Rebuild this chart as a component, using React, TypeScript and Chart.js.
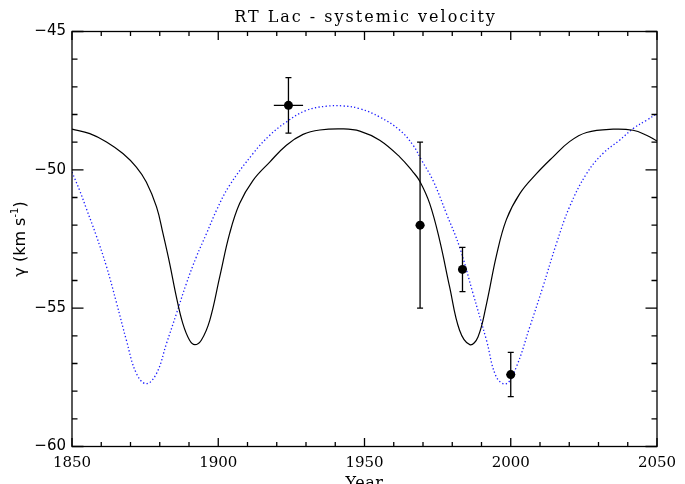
import { useEffect, useRef } from 'react';
import { Chart, registerables } from 'chart.js';

Chart.register(...registerables);

// Solid model curve (black)
const blackYears = [1850.0, 1856.1, 1861.8, 1867.4, 1872.0, 1875.4, 1878.9, 1881.1, 1883.4, 1885.7, 1887.9, 1890.2, 1892.0, 1894.2, 1897.1, 1900.5, 1903.9, 1907.3, 1911.9, 1917.6, 1923.3, 1929.0, 1934.7, 1942.6, 1948.4, 1955.2, 1962.1, 1966.6, 1968.9, 1972.3, 1975.7, 1979.1, 1982.5, 1986.0, 1988.8, 1991.7, 1995.1, 1998.5, 2003.1, 2008.8, 2014.4, 2020.1, 2025.9, 2035.0, 2041.8, 2046.4, 2050.0];
const blackGamma = [-48.53, -48.69, -48.99, -49.41, -49.90, -50.44, -51.34, -52.30, -53.39, -54.60, -55.56, -56.16, -56.32, -56.16, -55.44, -53.87, -52.30, -51.22, -50.38, -49.72, -49.11, -48.72, -48.56, -48.52, -48.60, -48.93, -49.54, -50.08, -50.41, -51.22, -52.55, -54.23, -55.80, -56.32, -56.04, -54.85, -53.10, -51.80, -50.86, -50.14, -49.54, -48.98, -48.65, -48.53, -48.57, -48.75, -48.96];

// Dotted model curve (blue)
const blueYears = [1850.0, 1852.6, 1854.9, 1858.3, 1861.8, 1865.2, 1868.6, 1872.0, 1875.4, 1878.9, 1882.3, 1885.7, 1889.1, 1892.5, 1896.0, 1899.4, 1903.7, 1911.9, 1917.6, 1923.3, 1930.1, 1937.0, 1942.6, 1948.4, 1955.2, 1962.1, 1966.6, 1969.5, 1973.4, 1978.0, 1982.5, 1987.1, 1991.7, 1995.1, 1998.5, 2001.9, 2006.5, 2011.0, 2015.6, 2020.1, 2025.9, 2031.5, 2037.2, 2041.8, 2046.4, 2050.0];
const blueGamma = [-50.08, -50.74, -51.40, -52.38, -53.50, -54.80, -56.16, -57.36, -57.73, -57.36, -56.28, -55.20, -54.11, -53.15, -52.30, -51.46, -50.59, -49.41, -48.75, -48.27, -47.85, -47.70, -47.69, -47.79, -48.09, -48.57, -49.11, -49.65, -50.38, -51.58, -52.79, -54.47, -56.16, -57.49, -57.73, -57.13, -55.68, -54.23, -52.67, -51.34, -50.14, -49.41, -48.93, -48.51, -48.21, -47.97];

// Observations with error bars
const obsYear = [1924, 1969, 1983.5, 2000];
const obsGamma = [-47.67, -52.0, -53.6, -57.4];
const obsGammaErr = [1.0, 3.0, 0.8, 0.8];
const obsYearErr = [5, 1.5, 1.5, 1.5];

// Axes
const xMin = 1850;
const xMax = 2050;
const yMin = -60;
const yMax = -45;
const titleText = 'RT Lac - systemic velocity';
const xTitle = 'Year';

export default function App() {
  const ref = useRef<HTMLCanvasElement>(null);

  useEffect(() => {
    const canvas = ref.current;
    if (!canvas) return;

    const decor = {
      id: 'decor',
      afterDatasetsDraw(chart: any) {
        const ctx = chart.ctx;
        const xs = chart.scales.x;
        const ys = chart.scales.y;
        ctx.save();
        ctx.strokeStyle = '#000';
        ctx.lineWidth = 1.3;
        for (let i = 0; i < obsYear.length; i++) {
          const px = xs.getPixelForValue(obsYear[i]);
          const py = ys.getPixelForValue(obsGamma[i]);
          const pyTop = ys.getPixelForValue(obsGamma[i] + obsGammaErr[i]);
          const pyBot = ys.getPixelForValue(obsGamma[i] - obsGammaErr[i]);
          const pxL = xs.getPixelForValue(obsYear[i] - obsYearErr[i]);
          const pxR = xs.getPixelForValue(obsYear[i] + obsYearErr[i]);
          ctx.beginPath();
          ctx.moveTo(px, pyTop);
          ctx.lineTo(px, pyBot);
          ctx.moveTo(px - 3, pyTop);
          ctx.lineTo(px + 3, pyTop);
          ctx.moveTo(px - 3, pyBot);
          ctx.lineTo(px + 3, pyBot);
          ctx.moveTo(pxL, py);
          ctx.lineTo(pxR, py);
          ctx.stroke();
        }
        ctx.restore();
      },
      afterDraw(chart: any) {
        const ctx = chart.ctx;
        const a = chart.chartArea;
        const xs = chart.scales.x;
        const ys = chart.scales.y;
        ctx.save();
        ctx.strokeStyle = '#000';
        ctx.lineWidth = 1.3;
        ctx.strokeRect(a.left, a.top, a.right - a.left, a.bottom - a.top);
        ctx.beginPath();
        for (let v = xMin; v <= xMax; v += 10) {
          const px = xs.getPixelForValue(v);
          const len = v % 50 === 0 ? 8.5 : 4.5;
          ctx.moveTo(px, a.bottom);
          ctx.lineTo(px, a.bottom - len);
          ctx.moveTo(px, a.top);
          ctx.lineTo(px, a.top + len);
        }
        for (let v = yMin; v <= yMax; v += 1) {
          const py = ys.getPixelForValue(v);
          const len = v % 5 === 0 ? 11.5 : 5.5;
          ctx.moveTo(a.left, py);
          ctx.lineTo(a.left + len, py);
          ctx.moveTo(a.right, py);
          ctx.lineTo(a.right - len, py);
        }
        ctx.stroke();

        // Title
        ctx.fillStyle = '#000';
        ctx.font = '16px "DejaVu Serif"';
        ctx.textAlign = 'center';
        ctx.textBaseline = 'alphabetic';
        try { (ctx as any).letterSpacing = '2px'; } catch (e) {}
        ctx.fillText(titleText, (a.left + a.right) / 2 + 1, 21.5);
        try { (ctx as any).letterSpacing = '0.5px'; } catch (e) {}
        ctx.fillText(xTitle, (a.left + a.right) / 2, 487.5);
        try { (ctx as any).letterSpacing = '0px'; } catch (e) {}

        // Y axis title: γ (km s^-1)
        const cy = (a.top + a.bottom) / 2;
        ctx.translate(19, cy);
        ctx.rotate(-Math.PI / 2);
        ctx.textAlign = 'left';
        ctx.textBaseline = 'alphabetic';
        const mainFont = '16px "DejaVu Sans"';
        const supFont = '10px "DejaVu Sans"';
        const p1 = 'γ (km s';
        const p2 = '-1';
        const p3 = ')';
        ctx.font = mainFont;
        const w1 = ctx.measureText(p1).width;
        const w3 = ctx.measureText(p3).width;
        ctx.font = supFont;
        const w2 = ctx.measureText(p2).width;
        const total = w1 + w2 + w3;
        let x0 = -total / 2;
        const base = 5.5;
        ctx.font = mainFont;
        ctx.fillText(p1, x0, base);
        x0 += w1;
        ctx.font = supFont;
        ctx.fillText(p2, x0, base - 6.5);
        x0 += w2;
        ctx.font = mainFont;
        ctx.fillText(p3, x0, base);
        ctx.restore();
      },
    };

    const chart = new Chart(canvas, {
      type: 'scatter',
      data: {
        datasets: [
          {
            label: 'observations',
            data: obsYear.map((x, i) => ({ x, y: obsGamma[i] })),
            showLine: false,
            pointRadius: 4.5,
            pointHoverRadius: 4.5,
            pointBackgroundColor: '#000',
            pointBorderWidth: 0,
            backgroundColor: '#000',
          },
          {
            label: 'model solid',
            data: blackYears.map((x, i) => ({ x, y: blackGamma[i] })),
            showLine: true,
            borderColor: '#000',
            borderWidth: 1.2,
            pointRadius: 0,
            tension: 0.4,
            fill: false,
          },
          {
            label: 'model dotted',
            data: blueYears.map((x, i) => ({ x, y: blueGamma[i] })),
            showLine: true,
            borderColor: '#1a1aff',
            borderWidth: 1.3,
            borderDash: [1.3, 2.3],
            pointRadius: 0,
            tension: 0.4,
            fill: false,
          },
        ],
      },
      options: {
        responsive: false,
        animation: false,
        devicePixelRatio: 1,
        layout: { padding: { left: 0, right: 28, top: 31.5, bottom: 0 } },
        plugins: {
          legend: { display: false },
          tooltip: { enabled: false },
          title: { display: false },
        },
        scales: {
          x: {
            type: 'linear',
            min: xMin,
            max: xMax,
            grid: { display: false, drawTicks: false },
            border: { display: false },
            ticks: {
              stepSize: 50,
              autoSkip: false,
              maxRotation: 0,
              padding: 8,
              color: '#000',
              font: { family: 'DejaVu Serif', size: 15 },
              callback: (v: any) => String(v),
            },
            afterFit: (s: any) => { s.height = 37.5; },
          },
          y: {
            type: 'linear',
            min: yMin,
            max: yMax,
            grid: { display: false, drawTicks: false },
            border: { display: false },
            ticks: {
              stepSize: 5,
              autoSkip: false,
              padding: 6,
              color: '#000',
              font: { family: 'DejaVu Sans', size: 15 },
              callback: (v: any) => (v < 0 ? '\u2212' + Math.abs(v) : String(v)),
            },
            afterFit: (s: any) => { s.width = 72; },
          },
        },
      },
      plugins: [decor],
    });

    return () => chart.destroy();
  }, []);

  return (
    <div style={{ position: 'absolute', left: 0, top: 0, width: 685, height: 484, background: '#fff' }}>
      <canvas ref={ref} width={685} height={484} style={{ display: 'block', width: 685, height: 484 }} />
    </div>
  );
}
